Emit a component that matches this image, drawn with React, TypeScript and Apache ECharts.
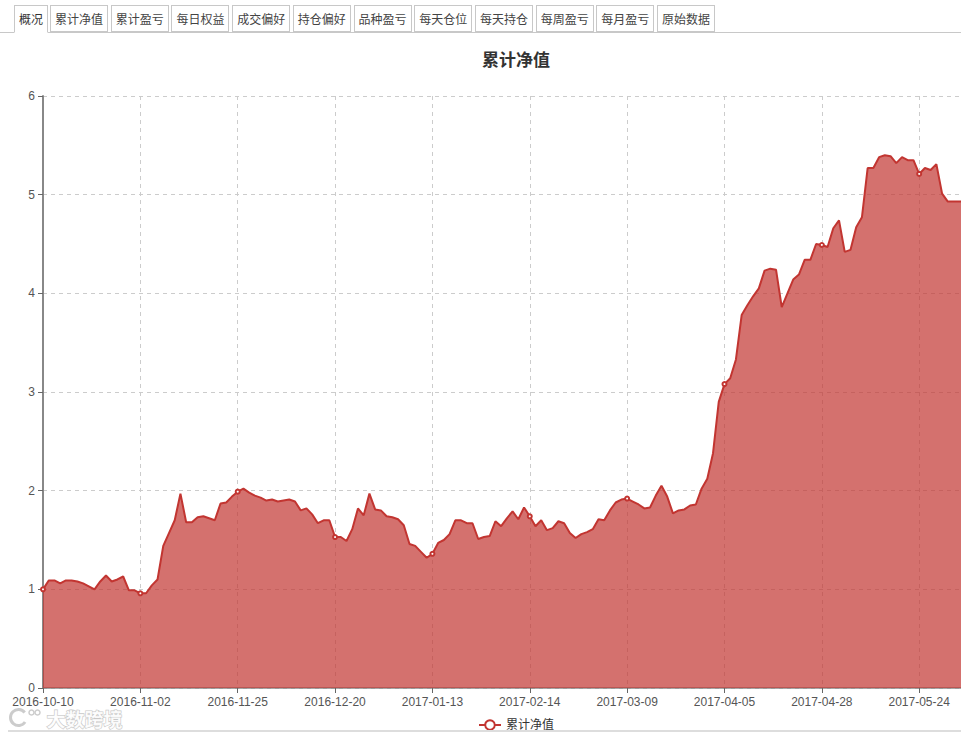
import React, { useEffect, useRef } from "react";
import * as echarts from "echarts";

const tabLabels = ["概况", "累计净值", "累计盈亏", "每日权益", "成交偏好", "持仓偏好", "品种盈亏", "每天仓位", "每天持仓", "每周盈亏", "每月盈亏", "原始数据"];

const seriesName = "累计净值";

const dates = [
  "2016-10-10", "2016-10-11", "2016-10-12", "2016-10-13", "2016-10-14", "2016-10-17", "2016-10-18", "2016-10-19", "2016-10-20", "2016-10-21",
  "2016-10-24", "2016-10-25", "2016-10-26", "2016-10-27", "2016-10-28", "2016-10-31", "2016-11-01", "2016-11-02", "2016-11-03", "2016-11-04",
  "2016-11-07", "2016-11-08", "2016-11-09", "2016-11-10", "2016-11-11", "2016-11-14", "2016-11-15", "2016-11-16", "2016-11-17", "2016-11-18",
  "2016-11-21", "2016-11-22", "2016-11-23", "2016-11-24", "2016-11-25", "2016-11-28", "2016-11-29", "2016-11-30", "2016-12-01", "2016-12-02",
  "2016-12-05", "2016-12-06", "2016-12-07", "2016-12-08", "2016-12-09", "2016-12-12", "2016-12-13", "2016-12-14", "2016-12-15", "2016-12-16",
  "2016-12-19", "2016-12-20", "2016-12-21", "2016-12-22", "2016-12-23", "2016-12-26", "2016-12-27", "2016-12-28", "2016-12-29", "2016-12-30",
  "2017-01-03", "2017-01-04", "2017-01-05", "2017-01-06", "2017-01-09", "2017-01-10", "2017-01-11", "2017-01-12", "2017-01-13", "2017-01-16",
  "2017-01-17", "2017-01-18", "2017-01-19", "2017-01-20", "2017-01-23", "2017-01-24", "2017-01-25", "2017-01-26", "2017-02-03", "2017-02-06",
  "2017-02-07", "2017-02-08", "2017-02-09", "2017-02-10", "2017-02-13", "2017-02-14", "2017-02-15", "2017-02-16", "2017-02-17", "2017-02-20",
  "2017-02-21", "2017-02-22", "2017-02-23", "2017-02-24", "2017-02-27", "2017-02-28", "2017-03-01", "2017-03-02", "2017-03-03", "2017-03-06",
  "2017-03-07", "2017-03-08", "2017-03-09", "2017-03-10", "2017-03-13", "2017-03-14", "2017-03-15", "2017-03-16", "2017-03-17", "2017-03-20",
  "2017-03-21", "2017-03-22", "2017-03-23", "2017-03-24", "2017-03-27", "2017-03-28", "2017-03-29", "2017-03-30", "2017-03-31", "2017-04-05",
  "2017-04-06", "2017-04-07", "2017-04-10", "2017-04-11", "2017-04-12", "2017-04-13", "2017-04-14", "2017-04-17", "2017-04-18", "2017-04-19",
  "2017-04-20", "2017-04-21", "2017-04-24", "2017-04-25", "2017-04-26", "2017-04-27", "2017-04-28", "2017-05-02", "2017-05-03", "2017-05-04",
  "2017-05-05", "2017-05-08", "2017-05-09", "2017-05-10", "2017-05-11", "2017-05-12", "2017-05-15", "2017-05-16", "2017-05-17", "2017-05-18",
  "2017-05-19", "2017-05-22", "2017-05-23", "2017-05-24", "2017-05-25", "2017-05-26", "2017-05-31", "2017-06-01", "2017-06-02", "2017-06-05",
  "2017-06-06", "2017-06-07",
];

const netValues = [
  1.00, 1.09, 1.09, 1.06, 1.09, 1.09, 1.08, 1.06, 1.03, 1.00,
  1.08, 1.14, 1.08, 1.10, 1.13, 0.99, 0.99, 0.96, 0.96, 1.04,
  1.10, 1.44, 1.57, 1.70, 1.97, 1.68, 1.68, 1.73, 1.74, 1.72,
  1.70, 1.87, 1.88, 1.94, 1.99, 2.02, 1.98, 1.95, 1.93, 1.90,
  1.91, 1.89, 1.90, 1.91, 1.89, 1.80, 1.82, 1.76, 1.67, 1.70,
  1.70, 1.53, 1.53, 1.49, 1.61, 1.82, 1.75, 1.97, 1.81, 1.80,
  1.74, 1.73, 1.71, 1.65, 1.46, 1.44, 1.38, 1.32, 1.36, 1.47,
  1.50, 1.56, 1.70, 1.70, 1.67, 1.67, 1.51, 1.53, 1.54, 1.69,
  1.64, 1.72, 1.79, 1.71, 1.83, 1.74, 1.64, 1.70, 1.60, 1.62,
  1.69, 1.67, 1.57, 1.52, 1.56, 1.58, 1.61, 1.71, 1.70, 1.80,
  1.88, 1.91, 1.92, 1.89, 1.86, 1.82, 1.83, 1.95, 2.05, 1.94,
  1.77, 1.80, 1.81, 1.85, 1.86, 2.02, 2.12, 2.38, 2.90, 3.08,
  3.14, 3.33, 3.78, 3.88, 3.97, 4.05, 4.23, 4.25, 4.24, 3.86,
  4.00, 4.14, 4.19, 4.34, 4.34, 4.50, 4.49, 4.47, 4.66, 4.74,
  4.42, 4.44, 4.67, 4.77, 5.27, 5.27, 5.38, 5.40, 5.39, 5.32,
  5.38, 5.35, 5.35, 5.21, 5.27, 5.25, 5.31, 5.01, 4.93, 4.93,
  4.93, 4.93,
];

const FONT = "'Liberation Sans', 'Noto Sans CJK SC', sans-serif";

function Chart() {
  const ref = useRef<HTMLDivElement>(null);
  useEffect(() => {
    if (!ref.current) return;
    const chart = echarts.init(ref.current, undefined, { renderer: "svg" });
    chart.setOption({
      animation: false,
      color: ["#c23531"],
      textStyle: { fontFamily: FONT },
      title: {
        text: "累计净值",
        left: "center",
        top: 47,
        textStyle: { fontSize: 17, fontWeight: "bold", color: "#333", fontFamily: FONT },
      },
      legend: {
        data: [seriesName],
        left: "center",
        top: 714,
        itemWidth: 22,
        itemHeight: 12,
        textStyle: { fontSize: 12, color: "#333", fontFamily: FONT },
      },
      grid: { left: 43, top: 96, bottom: 46, right: 67, containLabel: false },
      xAxis: {
        type: "category",
        boundaryGap: false,
        data: dates,
        axisLine: { lineStyle: { color: "#888", width: 1.5 } },
        axisTick: { interval: 16, length: 5, lineStyle: { color: "#666" } },
        axisLabel: { interval: 16, color: "#555", fontSize: 12, margin: 8, fontFamily: FONT },
        splitLine: { show: true, interval: 16, lineStyle: { color: "#ccc", type: [4, 4] } },
      },
      yAxis: {
        type: "value",
        min: 0,
        max: 6,
        interval: 1,
        axisLine: { show: true, lineStyle: { color: "#888", width: 2 } },
        axisTick: { show: true, length: 5, lineStyle: { color: "#666" } },
        axisLabel: { color: "#555", fontSize: 12, margin: 8, fontFamily: FONT },
        splitLine: { show: true, lineStyle: { color: "#ccc", type: [4, 4] } },
      },
      series: [
        {
          name: seriesName,
          type: "line",
          data: netValues,
          symbol: "emptyCircle",
          symbolSize: 4,
          showAllSymbol: "auto",
          lineStyle: { width: 2, color: "#c23531" },
          itemStyle: { color: "#c23531", borderWidth: 1 },
          areaStyle: { color: "#c23531", opacity: 0.7 },
        },
      ],
      graphic: [
        {
          type: "group",
          left: 8,
          top: 707,
          silent: true,
          children: [
            {
              type: "arc",
              shape: { cx: 12, cy: 11, r: 8, startAngle: 0.6, endAngle: 5.6 },
              style: { stroke: "#ccc", lineWidth: 3, fill: null },
            },
            {
              type: "circle",
              shape: { cx: 25, cy: 6, r: 2.5 },
              style: { stroke: "#ccc", lineWidth: 1.5, fill: "#fff" },
            },
            {
              type: "circle",
              shape: { cx: 31, cy: 6, r: 2.5 },
              style: { stroke: "#ccc", lineWidth: 1.5, fill: "#fff" },
            },
            {
              type: "text",
              x: 40,
              y: 2,
              style: {
                text: "大数跨境",
                fontSize: 19,
                fontWeight: "bold",
                fontFamily: "'Noto Sans CJK SC', sans-serif",
                fill: "rgba(255,255,255,0.9)",
                stroke: "#c8c8c8",
                lineWidth: 1.2,
              },
            },
          ],
        },
      ],
    });
    return () => chart.dispose();
  }, []);
  return <div ref={ref} style={{ position: "absolute", left: 0, top: 0, width: 1032, height: 734 }} />;
}

export default function App() {
  return (
    <div
      style={{
        position: "fixed",
        left: 0,
        top: 0,
        width: 961,
        height: 734,
        overflow: "hidden",
        background: "#fff",
        fontFamily: "'Noto Sans CJK SC', sans-serif",
      }}
    >
      <Chart />
      <div
        style={{
          position: "absolute",
          left: 0,
          top: 32,
          width: 961,
          height: 1,
          background: "#c8c8c8",
        }}
      />
      <div style={{ position: "absolute", left: 14, top: 5, display: "flex", height: 28 }}>
        {tabLabels.map((t, i) => (
          <div
            key={t}
            style={{
              boxSizing: "border-box",
              height: i === 0 ? 28 : 27,
              padding: "0 4px",
              marginRight: i === 0 ? 2 : 2.7,
              border: "1px solid #c8c8c8",
              borderBottom: i === 0 ? "1px solid #fff" : "1px solid #c8c8c8",
              background: "#fff",
              fontSize: 12,
              lineHeight: "25px",
              color: i === 0 ? "#333" : "#444",
              whiteSpace: "nowrap",
            }}
          >
            {t}
          </div>
        ))}
      </div>
      <div
        style={{
          position: "absolute",
          left: 8,
          top: 730,
          width: 953,
          height: 2,
          background: "#ddd",
        }}
      />
    </div>
  );
}
